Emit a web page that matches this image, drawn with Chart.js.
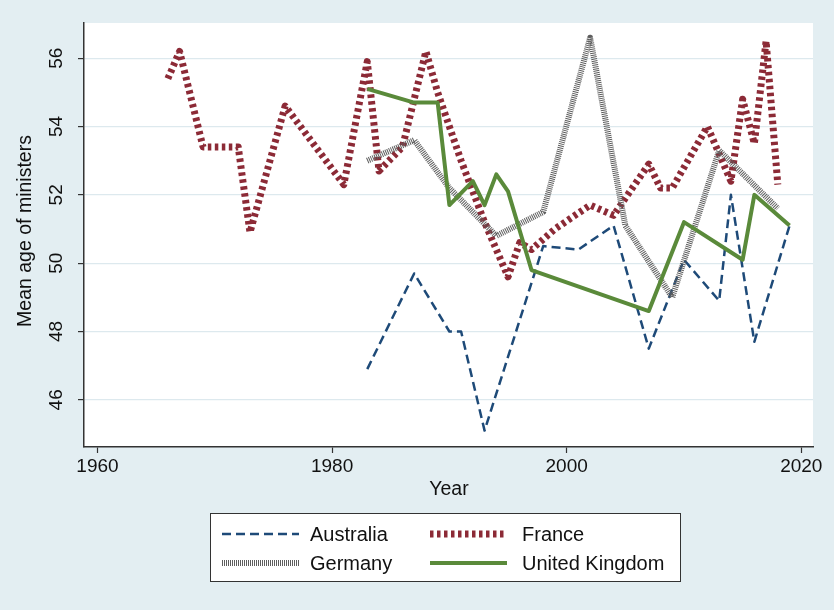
<!DOCTYPE html>
<html>
<head>
<meta charset="utf-8">
<script src="https://cdn.jsdelivr.net/npm/chart.js@4.4.0/dist/chart.umd.min.js"></script>
<style>
  html, body { margin: 0; padding: 0; background: #e3eef2; }
  #wrap { width: 834px; height: 610px; }
</style>
</head>
<body>
<div id="wrap"><canvas id="chart" width="834" height="610"></canvas></div>
<script>
// data
const ausYears = [1983, 1987, 1990, 1991, 1993, 1998, 2001, 2004, 2007, 2010, 2013, 2014, 2016, 2019];
const ausAge   = [46.9, 49.7, 48.0, 48.0, 45.1, 50.5, 50.4, 51.1, 47.5, 50.1, 48.9, 52.0, 47.7, 51.1];

const fraYears = [1966, 1967, 1969, 1970, 1971, 1972, 1973, 1976, 1981, 1983, 1984, 1986, 1988, 1989, 1991, 1993,
                  1995, 1996, 1997, 1999, 2002, 2004, 2007, 2008, 2009, 2012, 2014, 2015, 2016, 2017, 2018];
const fraAge   = [55.4, 56.2, 53.4, 53.4, 53.4, 53.4, 50.9, 54.6, 52.3, 55.9, 52.7, 53.4, 56.2, 55.0, 53.0, 51.2,
                  49.6, 50.6, 50.4, 51.0, 51.7, 51.4, 52.9, 52.2, 52.2, 54.0, 52.4, 54.8, 53.5, 56.5, 52.3];

const gerYears = [1983, 1987, 1990, 1994, 1998, 2002, 2005, 2009, 2013, 2018];
const gerAge   = [53.0, 53.6, 52.2, 50.8, 51.5, 56.6, 51.1, 49.0, 53.3, 51.6];

const ukYears = [1983, 1987, 1989, 1990, 1992, 1993, 1994, 1995, 1997, 2007, 2010, 2015, 2016, 2019];
const ukAge   = [55.1, 54.7, 54.7, 51.7, 52.4, 51.7, 52.6, 52.1, 49.8, 48.6, 51.2, 50.1, 52.0, 51.1];

const xTicks = [1960, 1980, 2000, 2020];
const yTicks = [46, 48, 50, 52, 54, 56];

const FONT = '"Liberation Sans", Arial, Helvetica, sans-serif';
const BG = '#e3eef2';

function pts(xs, ys) {
    return xs.map((x, i) => ({ x: x, y: ys[i] }));
}

const series = [
    { label: 'Australia', data: pts(ausYears, ausAge), color: '#1e4a78', width: 2.5, dash: [9, 5], order: 4 },
    { label: 'France', data: pts(fraYears, fraAge), color: '#8c2a36', width: 7, dash: [3.5, 3.5], order: 3 },
    { label: 'Germany', data: pts(gerYears, gerAge), color: '#5e5e5e', width: 6, dash: [1, 1], order: 2 },
    { label: 'United Kingdom', data: pts(ukYears, ukAge), color: '#5a8a3a', width: 4, dash: [], order: 1 }
];

const backgroundPlugin = {
    id: 'plotBg',
    beforeDraw(chart) {
        const ctx = chart.ctx;
        const a = chart.chartArea;
        ctx.save();
        ctx.fillStyle = BG;
        ctx.fillRect(0, 0, chart.width, chart.height);
        ctx.fillStyle = '#ffffff';
        ctx.fillRect(a.left, a.top, a.right - a.left, a.bottom - a.top);
        ctx.restore();
    }
};

const labelsPlugin = {
    id: 'extraLabels',
    afterDraw(chart) {
        const ctx = chart.ctx;
        const ys = chart.scales.y;
        const a = chart.chartArea;
        ctx.save();
        ctx.fillStyle = '#111';
        ctx.textAlign = 'center';
        ctx.textBaseline = 'middle';

        // rotated y tick labels
        ctx.font = '19px ' + FONT;
        yTicks.forEach(v => {
            ctx.save();
            ctx.translate(57, ys.getPixelForValue(v));
            ctx.rotate(-Math.PI / 2);
            ctx.fillText(String(v), 0, 0);
            ctx.restore();
        });

        // axis titles
        ctx.font = '19.5px ' + FONT;
        ctx.save();
        ctx.translate(26, 231);
        ctx.rotate(-Math.PI / 2);
        ctx.fillText('Mean age of ministers', 0, 0);
        ctx.restore();
        ctx.fillText('Year', 449, 490);

        // legend box
        const bx = 210, by = 513, bw = 470, bh = 68;
        ctx.fillStyle = '#ffffff';
        ctx.fillRect(bx, by, bw, bh);
        ctx.strokeStyle = '#333';
        ctx.lineWidth = 1;
        ctx.strokeRect(bx + 0.5, by + 0.5, bw, bh);

        const slots = [
            { x: 222, tx: 310, y: 534 },
            { x: 430, tx: 522, y: 534 },
            { x: 222, tx: 310, y: 563 },
            { x: 430, tx: 522, y: 563 }
        ];
        ctx.font = '20px ' + FONT;
        ctx.textAlign = 'left';
        series.forEach((s, i) => {
            const sl = slots[i];
            ctx.beginPath();
            ctx.strokeStyle = s.color;
            ctx.lineWidth = s.width;
            ctx.setLineDash(s.dash);
            ctx.moveTo(sl.x, sl.y);
            ctx.lineTo(sl.x + 77, sl.y);
            ctx.stroke();
            ctx.setLineDash([]);
            ctx.fillStyle = '#111';
            ctx.fillText(s.label, sl.tx, sl.y + 1);
        });
        ctx.restore();
    }
};

new Chart(document.getElementById('chart'), {
    type: 'line',
    data: {
        datasets: series.map(s => ({
            label: s.label,
            data: s.data,
            borderColor: s.color,
            borderWidth: s.width,
            borderDash: s.dash,
            borderJoinStyle: 'round',
            borderCapStyle: 'butt',
            pointRadius: 0,
            tension: 0,
            fill: false,
            order: s.order
        }))
    },
    options: {
        responsive: false,
        animation: false,
        layout: { padding: { left: 0, top: 23, right: 21, bottom: 123 } },
        plugins: {
            legend: { display: false },
            tooltip: { enabled: false }
        },
        scales: {
            x: {
                type: 'linear',
                min: 1958.85,
                max: 2021.0,
                afterBuildTicks: scale => { scale.ticks = xTicks.map(v => ({ value: v })); },
                afterFit: scale => { scale.height = 40; },
                grid: { drawOnChartArea: false, drawTicks: true, tickLength: 6, tickColor: '#333', tickWidth: 1.2 },
                border: { display: true, color: '#333', width: 1.5 },
                ticks: {
                    color: '#111',
                    font: { family: FONT, size: 19 },
                    padding: 2,
                    maxRotation: 0,
                    autoSkip: false,
                    callback: v => String(v)
                }
            },
            y: {
                type: 'linear',
                min: 44.62,
                max: 57.03,
                afterBuildTicks: scale => { scale.ticks = yTicks.map(v => ({ value: v })); },
                afterFit: scale => { scale.width = 84; },
                grid: { color: '#dde9ee', lineWidth: 1.2, drawTicks: true, tickLength: 6, tickColor: '#333', tickWidth: 1.2 },
                border: { display: true, color: '#333', width: 1.5 },
                ticks: { display: false }
            }
        }
    },
    plugins: [backgroundPlugin, labelsPlugin]
});
</script>
</body>
</html>
